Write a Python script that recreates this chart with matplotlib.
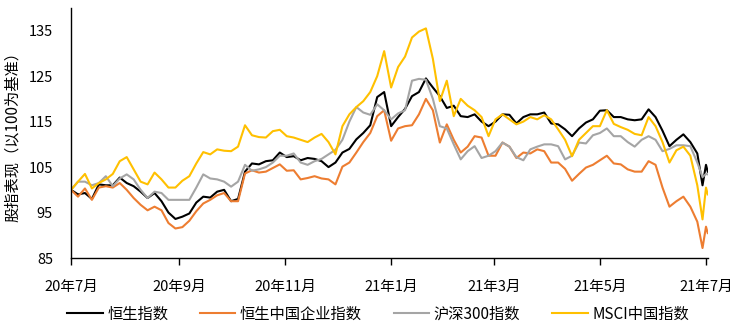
import pandas as pd
import matplotlib
matplotlib.use('Agg')
import matplotlib.pyplot as plt
import matplotlib.dates as mdates

plt.rcParams['font.family'] = ['Noto Sans CJK SC', 'DejaVu Sans']

# sampled every 4 days from 2020-07-01, plus the last few sessions
dates = list(pd.date_range('2020-07-01', periods=91, freq='4D')) + \
    list(pd.to_datetime(['2021-06-29', '2021-07-01', '2021-07-02']))

hsi = [100, 99, 99.3, 98, 101.2, 101, 101, 102.7, 101.5, 100.8,
       99.6, 98.2, 99.3, 97.5, 95, 93.6, 94.1, 94.8, 97.2, 98.5,
       98.3, 99.6, 100, 97.5, 98, 104, 105.8, 105.6, 106.3, 106.5,
       108.2, 107.2, 107.4, 106.5, 107, 106.8, 106.3, 105, 106, 108.2,
       109, 111.1, 112.5, 114.2, 120.4, 121.5, 114, 116, 117.8, 120.6,
       121.5, 124.5, 122.5, 120.6, 118, 118.5, 116.2, 116, 116.6, 115,
       114, 115, 116.6, 116.5, 114.6, 116, 116.6, 116.6, 117, 114.6,
       114.4, 113.3, 111.8, 113.5, 114.8, 115.5, 117.4, 117.5, 116, 116,
       115.5, 115.3, 115.5, 117.7, 116, 113, 109.6, 111, 112.2, 110.5,
       108, 101, 105.5, 104]

hscei = [100, 98.5, 100.3, 97.8, 100.5, 100.8, 100.5, 101.5, 100, 98.2,
         96.7, 95.5, 96.3, 95.5, 92.7, 91.5, 91.8, 93.2, 95.3, 97,
         97.8, 98.8, 99.3, 97.5, 97.5, 103.6, 104.3, 103.8, 104, 104.8,
         105.6, 104.2, 104.3, 102.3, 102.6, 103, 102.5, 102.3, 101.2, 105.1,
         106, 108.2, 110.5, 112.5, 116.2, 117.5, 110.8, 113.5, 114, 114.2,
         116.6, 120, 117.5, 110.4, 114.4, 111, 108.2, 109.5, 111.8, 111.5,
         107.5, 107.5, 110.4, 109.5, 107, 108.2, 108, 108.9, 108.5, 106,
         106, 104.6, 102, 103.5, 104.9, 105.5, 106.5, 107.5, 105.8, 105.6,
         104.5, 104, 104, 106.3, 105.5, 100.5, 96.3, 97.5, 98.5, 96.3,
         93, 87.2, 91.9, 90.5]

csi300 = [100, 101.8, 101.8, 101, 101.5, 103, 100.8, 102.5, 103.4, 102.3,
          100, 98.2, 99.6, 99.3, 97.8, 97.8, 97.8, 97.8, 100.5, 103.4,
          102.5, 102.3, 101.8, 100.7, 101.8, 105.5, 104.2, 104.5, 105, 106,
          107.5, 107.5, 108, 106, 105.5, 106.3, 106.8, 107.8, 108.8, 111,
          115, 118.2, 117, 116.5, 118.8, 117.5, 115.5, 116.8, 117.5, 124,
          124.4, 124.2, 120, 114, 113.5, 110, 106.7, 108.5, 109.6, 107,
          107.5, 108.5, 110.4, 109.5, 107.2, 106.5, 108.9, 109.5, 110, 110,
          109.6, 106.7, 107.5, 110.4, 110.2, 112, 112.5, 113.5, 111.8, 111.8,
          110.5, 109.5, 111, 111.8, 111, 108.5, 109, 109.8, 109.8, 109.6,
          106, 102.8, 103.5, 103.4]

msci = [100, 101.8, 103.5, 100.3, 101.5, 102.3, 103.5, 106.3, 107.2, 104.5,
        101.8, 101.2, 103.8, 102.3, 100.5, 100.5, 102, 103, 105.8, 108.3,
        107.8, 108.9, 108.6, 108.5, 109.5, 114.2, 112, 111.6, 111.5, 112.9,
        113.2, 111.8, 111.5, 111, 110.5, 111.5, 112.3, 110.5, 107.8, 114,
        116.6, 118.2, 119.5, 121.5, 125, 130.5, 122.5, 127, 129.3, 133.5,
        134.8, 135.5, 128.8, 119.5, 124, 116.2, 120, 118.5, 117.5, 116,
        111.8, 115.5, 116.6, 115.5, 114.4, 115, 116, 115.5, 116.4, 115.5,
        113.3, 111, 107.4, 111, 112.5, 114, 114, 117.5, 114.5, 113.8,
        113.2, 112.3, 112, 116, 114, 110.5, 106, 108.7, 109.5, 107.5,
        101, 93.5, 100.5, 99]

names = ['恒生指数', '恒生中国企业指数', '沪深300指数', 'MSCI中国指数']
colors = ['#000000', '#ED7D31', '#A5A5A5', '#FFC000']

fig = plt.figure(figsize=(7.4, 3.3), dpi=100)
ax = fig.add_axes([0.096, 0.218, 0.8604, 0.758])

for vals, name, c in zip([hsi, hscei, csi300, msci], names, colors):
    ax.plot(dates, vals, color=c, linewidth=1.5, label=name)

ax.set_xlim(pd.Timestamp('2020-07-01'), pd.Timestamp('2021-07-02'))
ax.set_ylim(85, 140)
ax.set_yticks([85, 95, 105, 115, 125, 135])

ax.xaxis.set_major_locator(mdates.MonthLocator(bymonth=[1, 3, 5, 7, 9, 11]))
ax.xaxis.set_major_formatter(
    plt.FuncFormatter(lambda v, p: '%d年%d月' % (mdates.num2date(v).year % 100,
                                               mdates.num2date(v).month)))

for s in ['top', 'right']:
    ax.spines[s].set_visible(False)
ax.spines['left'].set_linewidth(1)
ax.spines['bottom'].set_linewidth(1)
ax.tick_params(axis='y', length=0, pad=13, labelsize=10.5)
ax.tick_params(axis='x', length=5, width=1, pad=11, labelsize=10.5)

ax.set_ylabel('股指表现（以100为基准）', fontsize=11)
ax.yaxis.set_label_coords(-0.078, 0.5)

fig.legend(loc='center', bbox_to_anchor=(0.511, 0.048), ncol=4, frameon=False,
           fontsize=11, handlelength=2.3, handletextpad=0.3, columnspacing=2.1)

fig.savefig('out.png', dpi=100)
